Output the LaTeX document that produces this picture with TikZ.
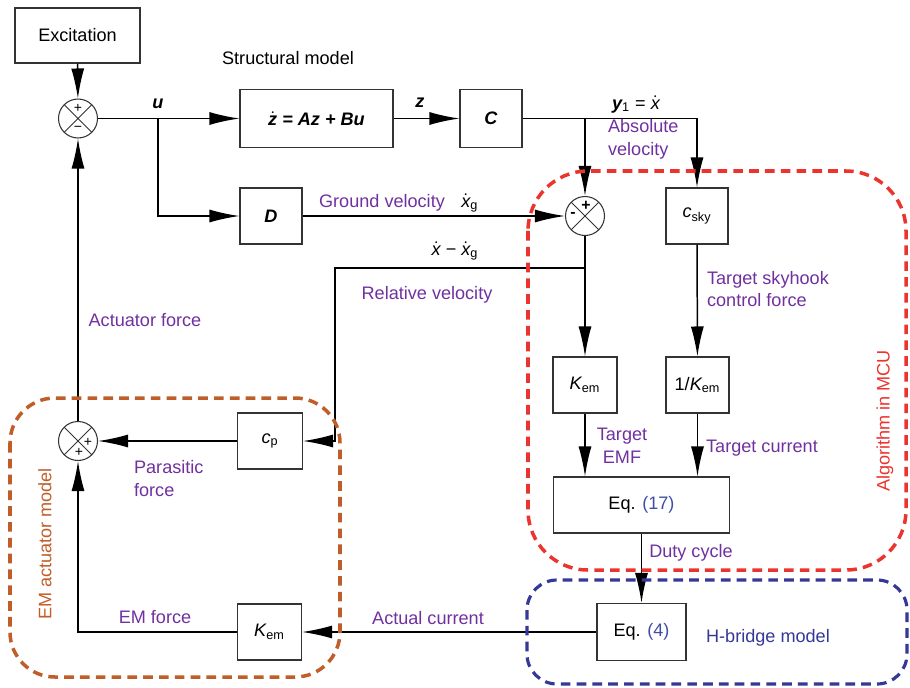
\documentclass[tikz,border=0pt]{standalone}
\usepackage{amsmath}
\usepackage{fontspec}
\setmainfont{Liberation Sans}
\usetikzlibrary{arrows.meta, positioning, calc}

\definecolor{lbl}{RGB}{112,48,160}
\definecolor{mcu}{RGB}{236,52,46}
\definecolor{hbr}{RGB}{52,56,150}
\definecolor{emm}{RGB}{192,94,42}
\definecolor{eqn}{RGB}{62,78,165}
\newcommand{\dotv}[1]{$\dot{\text{#1}}$}
\newcommand{\lo}[1]{\textsubscript{#1}}

\tikzset{
  block/.style={draw=black!80, line width=0.6pt, minimum width=1.24cm, minimum height=1.12cm, inner sep=0pt},
  sum/.style={draw=black!80, circle, line width=0.6pt, minimum size=0.78cm, inner sep=0pt,
    path picture={\draw[line width=0.5pt] (path picture bounding box.north west) -- (path picture bounding box.south east)
      (path picture bounding box.north east) -- (path picture bounding box.south west);}},
  sgn/.style={inner sep=0pt, font=\fontsize{8}{8}\selectfont},
  arr/.style={line width=0.85pt, -{Latex[length=6mm, width=2.6mm]}},
  lbl/.style={text=lbl, inner sep=1pt},
  grp/.style={line width=2pt, dash pattern=on 5.5pt off 3.5pt}
}

\begin{document}
\begin{tikzpicture}[x=0.02cm, y=-0.02cm, font=\fontsize{10.3}{13}\selectfont]
  \useasboundingbox (0,0) rectangle (910,687);
  % Blocks
  \node[block, minimum width=2.5cm, minimum height=1.1cm] (exc) at (77.5,35.5) {Excitation};
  \node[sum] (sum1) at (78,118.5) {};
  \node[block, minimum width=3.06cm, minimum height=1.16cm] (stm) at (316.5,118.5) {\bfseries\itshape \dotv{z} = Az + Bu};
  \node[block, minimum height=1.16cm] (cmat) at (491,118.5) {\bfseries\itshape C};
  \node[block] (dmat) at (271,216) {\bfseries\itshape D};
  \node[sum] (sum2) at (585,216) {};
  \node[block] (csky) at (697,216) {{\itshape c}\lo{sky}};
  \node[block, minimum width=1.28cm] (kem1) at (585,385) {{\itshape K}\lo{em}};
  \node[block, minimum width=1.26cm] (invk) at (697.5,385) {1/{\itshape K}\lo{em}};
  \node[block, minimum width=3.52cm] (eq17) at (641.5,505) {Eq. \textcolor{eqn}{(17)}};
  \node[block, minimum width=1.78cm, minimum height=1.14cm] (eq4) at (641.5,632) {Eq. \textcolor{eqn}{(4)}};
  \node[block, minimum width=1.28cm] (kem2) at (269.5,632) {{\itshape K}\lo{em}};
  \node[block, minimum width=1.3cm] (cp) at (270,441) {{\itshape c}\lo{p}};
  \node[sum] (sum3) at (78,441) {};
  % Signs
  \node[sgn] at ($(sum1)+(0,-10)$) {+};
  \node[sgn] at ($(sum1)+(0,10)$) {−};
  \node[sgn, font=\fontsize{9}{9}\selectfont\bfseries] at ($(sum2)+(1,-10)$) {+};
  \node[sgn, font=\fontsize{9}{9}\selectfont\bfseries] at ($(sum2)+(-12,-1)$) {-};
  \node[sgn] at ($(sum3)+(10,1)$) {+};
  \node[sgn] at ($(sum3)+(1,11)$) {+};
  % Branch points
  \coordinate (bu) at (158,118.5);
  \coordinate (by) at (585,118.5);
  \coordinate (br) at (585,268);
  \coordinate (bend) at (335,268);
  % Connectors
  \draw[arr] (exc) -- (sum1);
  \draw[arr] (sum1) -- (stm);
  \draw[arr] (bu) |- (dmat.west);
  \draw[arr] (stm) -- (cmat);
  \draw[arr] (cmat.east) -| (csky.north);
  \draw[arr] (by) -- (sum2);
  \draw[arr] (dmat) -- (sum2);
  \draw[arr] (sum2) -- (kem1);
  \draw[arr] (br) -- (bend) |- (cp.east);
  \draw[arr] (csky) -- (invk);
  \draw[arr] (kem1) -- (kem1 |- eq17.north);
  \draw[arr] (invk) -- (invk |- eq17.north);
  \draw[arr] (eq17) -- (eq4);
  \draw[arr] (eq4) -- (kem2);
  \draw[arr] (kem2.west) -| (sum3.south);
  \draw[arr] (cp) -- (sum3);
  \draw[arr] (sum3) -- (sum1);
  % Labels
  \node at (288,58) {Structural model};
  \node at (158,104) {\bfseries\itshape u};
  \node at (420,103) {\bfseries\itshape z};
  \node[anchor=base] at (636,109) {{\bfseries\itshape y}\lo{1} = \dotv{\itshape x}};
  \node[lbl, anchor=west, align=left] at (606,139.5) {Absolute\\velocity};
  \node[lbl, anchor=base] at (382,207) {Ground velocity};
  \node[anchor=base west, inner sep=0pt] at (461,207) {\dotv{\itshape x}\lo{g}};
  \node[anchor=base] at (455,255) {\dotv{\itshape x} − \dotv{\itshape x}\lo{g}};
  \node[lbl, anchor=base] at (427,299) {Relative velocity};
  \node[lbl, anchor=west, align=left] at (705,289) {Target skyhook\\control force};
  \node[lbl, anchor=base] at (145,326) {Actuator force};
  \node[lbl, anchor=west, align=left] at (132,478.5) {Parasitic\\force};
  \node[lbl, align=center] at (622,445.5) {Target\\EMF};
  \node[lbl, anchor=base] at (762,452) {Target current};
  \node[lbl, anchor=base] at (691,557) {Duty cycle};
  \node[lbl, anchor=base] at (428,624) {Actual current};
  \node[lbl, anchor=base] at (155,623) {EM force};
  % Groups
  \draw[grp, mcu, rounded corners=1.2cm] (528,171) rectangle (906,570);
  \draw[grp, hbr, line width=1.8pt, rounded corners=0.6cm] (527,580) rectangle (907,684);
  \draw[grp, emm, rounded corners=0.9cm] (10,398) rectangle (340,677);
  \node[rotate=90, text=mcu] at (885,421) {Algorithm in MCU};
  \node[text=hbr, anchor=base] at (768,642) {H-bridge model};
  \node[rotate=90, text=emm] at (45,544) {EM actuator model};
\end{tikzpicture}
\end{document}
